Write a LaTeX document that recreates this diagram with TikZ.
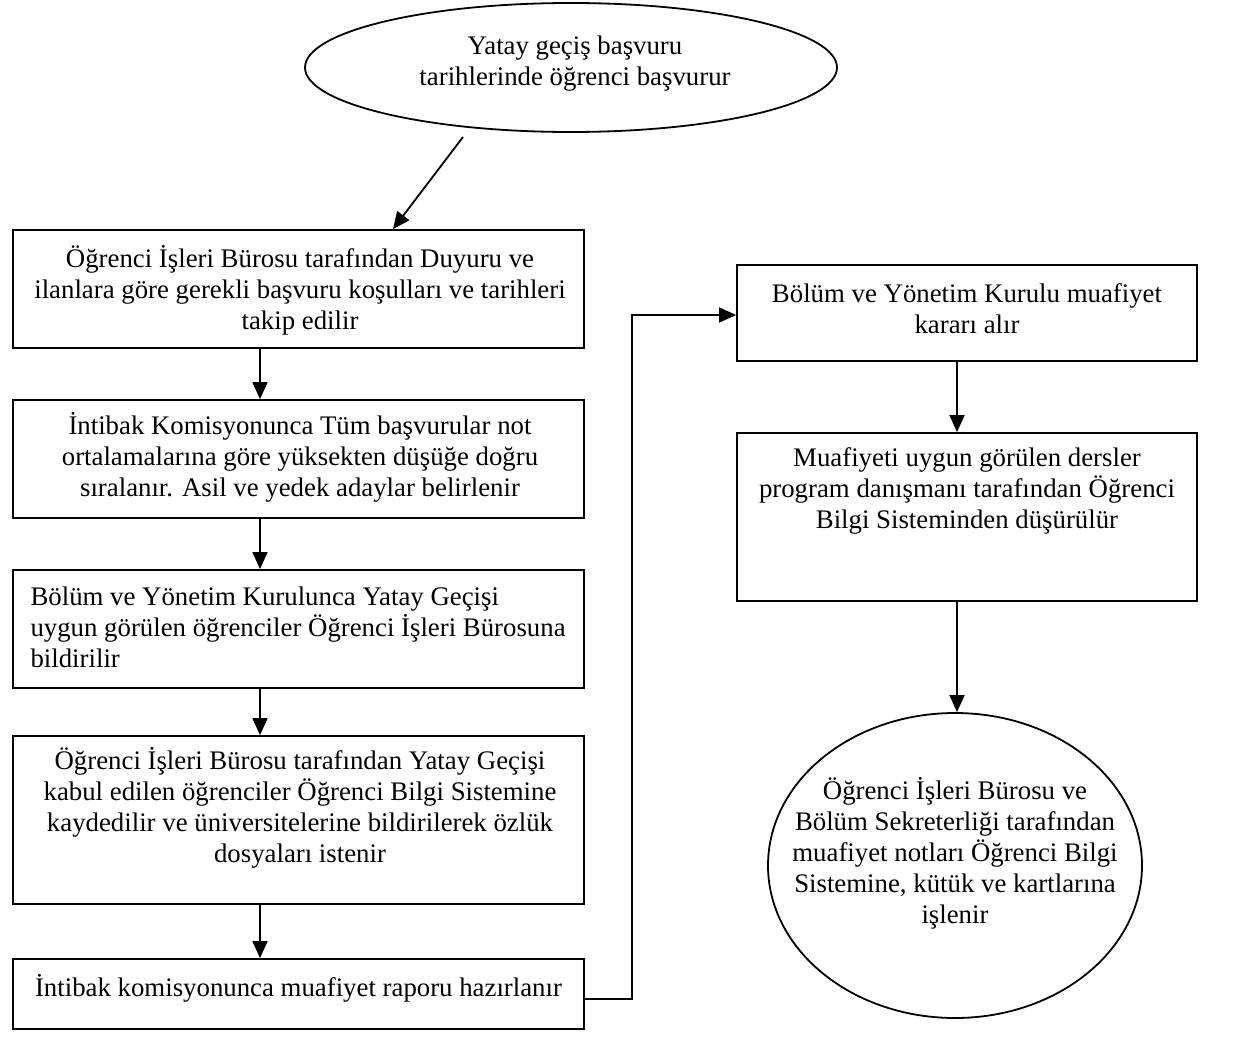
\documentclass[tikz,border=0pt]{standalone}
\usepackage{fontspec}
\setmainfont{Liberation Serif}
\usetikzlibrary{shapes.geometric,arrows.meta,calc}
\begin{document}
\begin{tikzpicture}[x=1pt,y=-1pt,
  every node/.style={font=\fontsize{26.8}{31}\selectfont},
  box/.style={draw,line width=1.8pt,rectangle,inner sep=0pt},
  oval/.style={draw,line width=1.8pt,ellipse,inner sep=0pt},
  txt/.style={align=center},
  arr/.style={line width=1.8pt,-{Triangle[length=17pt,width=15pt]}}]
\useasboundingbox (0,0) rectangle (1247,1057);
\fill[white] (0,0) rectangle (1247,1057);
\coordinate (ax) at (260,0);
\coordinate (bx) at (957,0);
\coordinate (cx) at (632,0);
\node[oval,minimum width=532pt,minimum height=129pt] (e1) at (571,67.5) {};
\node[txt] (t0) at (575,64) {Yatay geçiş başvuru\\tarihlerinde öğrenci başvurur};
\node[box,minimum width=571pt,minimum height=118pt] (b1) at (298.5,289) {};
\node[txt] (t1) at (300,290)
  {Öğrenci İşleri Bürosu tarafından Duyuru ve\\ilanlara göre gerekli başvuru koşulları ve tarihleri\\takip edilir};
\node[box,minimum width=571pt,minimum height=118pt] (b2) at (298.5,459) {};
\node[txt] (t2) at (300,457)
  {İntibak Komisyonunca Tüm başvurular not\\ortalamalarına göre yüksekten düşüğe doğru\\sıralanır. Asil ve yedek adaylar belirlenir};
\node[box,minimum width=571pt,minimum height=118pt] (b3) at (298.5,629) {};
\node[align=left,anchor=west] (t3) at (27,627.5)
  {Bölüm ve Yönetim Kurulunca Yatay Geçişi\\uygun görülen öğrenciler Öğrenci İşleri Bürosuna\\bildirilir};
\node[box,minimum width=571pt,minimum height=168pt] (b4) at (298.5,820) {};
\node[txt] (t4) at (300,808)
  {Öğrenci İşleri Bürosu tarafından Yatay Geçişi\\kabul edilen öğrenciler Öğrenci Bilgi Sistemine\\kaydedilir ve üniversitelerine bildirilerek özlük\\dosyaları istenir};
\node[box,minimum width=571pt,minimum height=70pt] (b5) at (298.5,994) {};
\node[txt] (t5) at (298.5,988) {İntibak komisyonunca muafiyet raporu hazırlanır};
\node[box,minimum width=460pt,minimum height=96pt] (b6) at (967,313) {};
\node[txt] (t6) at (967,309) {Bölüm ve Yönetim Kurulu muafiyet\\kararı alır};
\node[box,minimum width=460pt,minimum height=168pt] (b7) at (967,517) {};
\node[txt] (t7) at (967,491)
  {Muafiyeti uygun görülen dersler\\program danışmanı tarafından Öğrenci\\Bilgi Sisteminden düşürülür};
\node[oval,minimum width=374pt,minimum height=305pt] (e2) at (955,865.5) {};
\node[txt] (t8) at (955,853)
  {Öğrenci İşleri Bürosu ve\\Bölüm Sekreterliği tarafından\\muafiyet notları Öğrenci Bilgi\\Sistemine, kütük ve kartlarına\\işlenir};
\coordinate (d1) at (463,137);
\draw[arr] (d1) -- (b1.north -| 393,0);
\draw[arr] (b1.south -| ax) -- (b2.north -| ax);
\draw[arr] (b2.south -| ax) -- (b3.north -| ax);
\draw[arr] (b3.south -| ax) -- (b4.north -| ax);
\draw[arr] (b4.south -| ax) -- (b5.north -| ax);
\draw[arr] (b5.east |- 0,999) -| (cx |- 0,315) -- (b6.west |- 0,315);
\draw[arr] (b6.south -| bx) -- (b7.north -| bx);
\draw[arr] (b7.south -| bx) -- (e2.north -| bx);
\end{tikzpicture}
\end{document}
